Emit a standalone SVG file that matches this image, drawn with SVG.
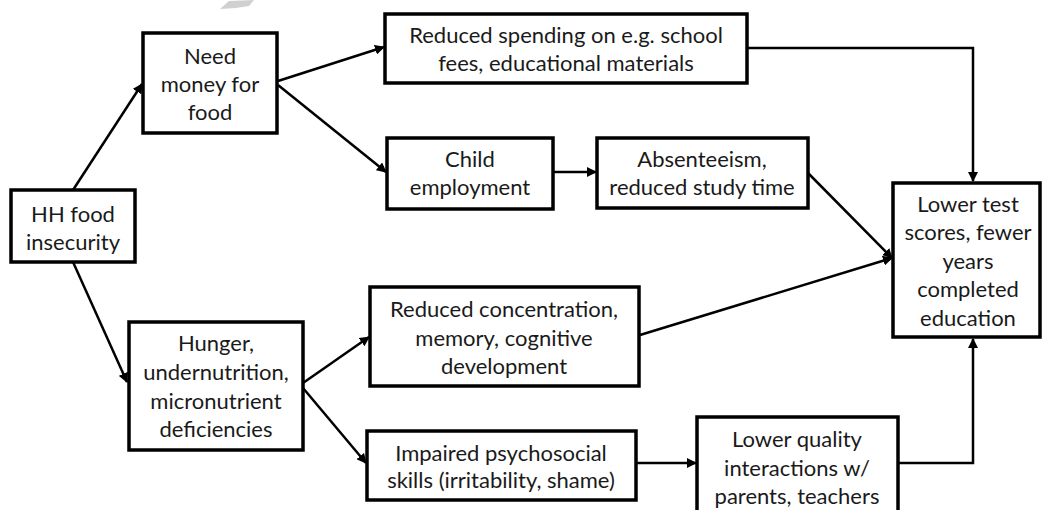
<svg xmlns="http://www.w3.org/2000/svg" width="1046" height="510" viewBox="0 0 1046 510">
<style>
.box{fill:#fff;stroke:#000;stroke-width:3.5}
.t{font-family:Lato,"Open Sans",sans-serif;font-size:22px;fill:#1a1a1a;text-anchor:middle;dominant-baseline:central}
.c{fill:none;stroke:#000;stroke-width:2.5}
</style>
<defs>
<marker id="ah" viewBox="0 0 10 10" refX="9" refY="5" markerWidth="4" markerHeight="4" orient="auto" markerUnits="strokeWidth">
<path d="M0,0 L10,5 L0,10 z" fill="#000"/>
</marker>
</defs>
<rect width="1046" height="510" fill="#fff"/>
<polygon points="220,9 229,1 254,0 249,6 236,8" fill="#d0d0d0"/>
<g id="connectors">
<line class="c" x1="73" y1="190" x2="142" y2="84" marker-end="url(#ah)"/>
<line class="c" x1="73" y1="262" x2="127" y2="382" marker-end="url(#ah)"/>
<line class="c" x1="278" y1="81" x2="384" y2="47" marker-end="url(#ah)"/>
<line class="c" x1="278" y1="85" x2="386" y2="172" marker-end="url(#ah)"/>
<line class="c" x1="553" y1="172" x2="596" y2="172" marker-end="url(#ah)"/>
<polyline class="c" points="747,48 973,48 973,181" marker-end="url(#ah)"/>
<line class="c" x1="808" y1="173" x2="892" y2="258" marker-end="url(#ah)"/>
<line class="c" x1="640" y1="335" x2="892" y2="258" marker-end="url(#ah)"/>
<line class="c" x1="303" y1="383" x2="369" y2="337" marker-end="url(#ah)"/>
<line class="c" x1="303" y1="388" x2="366" y2="463" marker-end="url(#ah)"/>
<line class="c" x1="636" y1="463" x2="696" y2="463" marker-end="url(#ah)"/>
<polyline class="c" points="898,463 973,463 973,339" marker-end="url(#ah)"/>
</g>
<g id="hh">
<rect class="box" x="11" y="190" width="124" height="72"/>
<text class="t" x="73" y="213">HH food</text>
<text class="t" x="73" y="241">insecurity</text>
</g>
<g id="need">
<rect class="box" x="143" y="33" width="134" height="100"/>
<text class="t" x="210" y="55">Need</text>
<text class="t" x="210" y="83">money for</text>
<text class="t" x="210" y="111">food</text>
</g>
<g id="spending">
<rect class="box" x="385" y="14" width="362" height="69"/>
<text class="t" x="566" y="34">Reduced spending on e.g. school</text>
<text class="t" x="566" y="62">fees, educational materials</text>
</g>
<g id="child">
<rect class="box" x="387" y="138" width="166" height="71"/>
<text class="t" x="470" y="158">Child</text>
<text class="t" x="470" y="186">employment</text>
</g>
<g id="absent">
<rect class="box" x="597" y="138" width="211" height="70"/>
<text class="t" x="702" y="158">Absenteeism,</text>
<text class="t" x="702" y="186">reduced study time</text>
</g>
<g id="outcome">
<rect class="box" x="893" y="183" width="147" height="154"/>
<text class="t" x="968" y="203">Lower test</text>
<text class="t" x="968" y="231">scores, fewer</text>
<text class="t" x="968" y="260">years</text>
<text class="t" x="968" y="288">completed</text>
<text class="t" x="968" y="317">education</text>
</g>
<g id="hunger">
<rect class="box" x="129" y="322" width="174" height="128"/>
<text class="t" x="216" y="342">Hunger,</text>
<text class="t" x="216" y="371">undernutrition,</text>
<text class="t" x="216" y="400">micronutrient</text>
<text class="t" x="216" y="428">deficiencies</text>
</g>
<g id="cognitive">
<rect class="box" x="370" y="287" width="269" height="99"/>
<text class="t" x="504" y="308">Reduced concentration,</text>
<text class="t" x="504" y="337">memory, cognitive</text>
<text class="t" x="504" y="365">development</text>
</g>
<g id="psycho">
<rect class="box" x="367" y="431" width="269" height="69"/>
<text class="t" x="501" y="452">Impaired psychosocial</text>
<text class="t" x="501" y="479">skills (irritability, shame)</text>
</g>
<g id="interactions">
<rect class="box" x="697" y="417" width="201" height="100"/>
<text class="t" x="797" y="438">Lower quality</text>
<text class="t" x="797" y="467">interactions w/</text>
<text class="t" x="797" y="495">parents, teachers</text>
</g>
</svg>
